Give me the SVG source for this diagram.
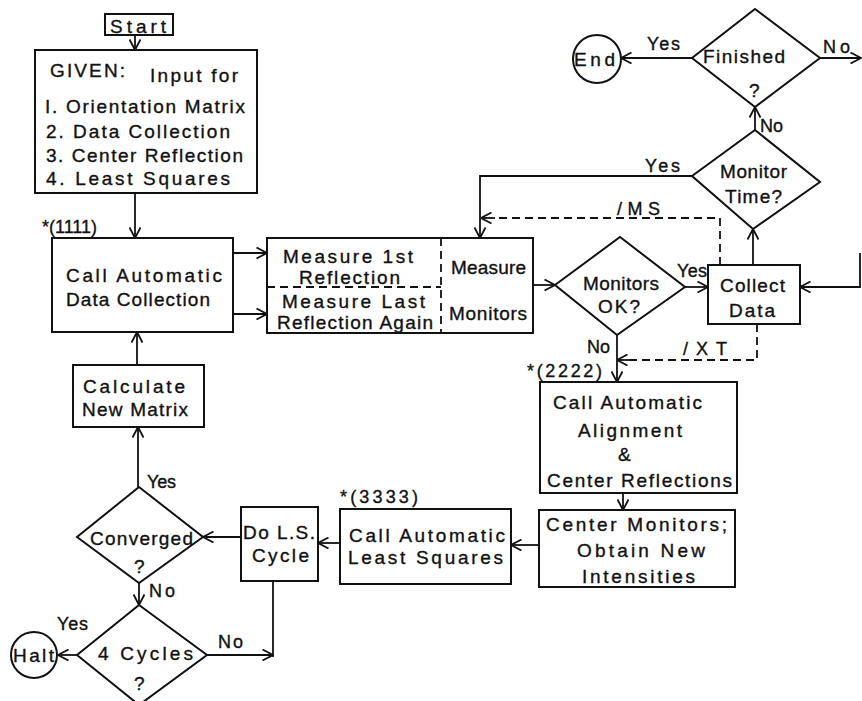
<svg xmlns="http://www.w3.org/2000/svg" width="862" height="701" viewBox="0 0 862 701">
<style>
.b{fill:#fff;stroke:#111;stroke-width:2}
.c{fill:none;stroke:#111;stroke-width:1.8}
.d{fill:none;stroke:#111;stroke-width:1.8;stroke-dasharray:8 5}
.a{marker-end:url(#ah)}
text{font-family:"Liberation Sans",Arial,sans-serif;font-size:19px;fill:#111;stroke:#111;stroke-width:0.35}
.s{font-size:18px}
</style>
<defs>
<marker id="ah" viewBox="0 0 12 12" refX="11.5" refY="6" markerWidth="12" markerHeight="12" markerUnits="userSpaceOnUse" orient="auto">
<path d="M1,0.5 L11.5,6 L1,11.5" fill="none" stroke="#111" stroke-width="1.8"/>
</marker>
</defs>
<rect width="862" height="701" fill="#fff"/>

<g id="connectors">
<path class="c a" d="M135,35 V50"/>
<path class="c a" d="M135,193 V238"/>
<path class="d" d="M136,238 V253 H233"/>
<path class="c a" d="M233,253 H267"/>
<path class="d" d="M137,332 V314 H233"/>
<path class="c a" d="M233,314 H267"/>
<path class="c a" d="M137,365 V332"/>
<path class="c a" d="M138,487 V427"/>
<path class="c a" d="M139,583 V605"/>
<path class="c a" d="M77,655 H58"/>
<path class="c a" d="M207,655 H273"/>
<path class="c" d="M273,581 V657"/>
<path class="c a" d="M241,537 H203"/>
<path class="c a" d="M340,543 H318"/>
<path class="c a" d="M539,545 H511"/>
<path class="c a" d="M623,493 V510"/>
<path class="c a" d="M617,335 V382"/>
<path class="d" d="M757,324 V360 H630"/>
<path class="c a" d="M630,360 H617"/>
<path class="c a" d="M533,285 H555"/>
<path class="c a" d="M685,287 H708"/>
<path class="c a" d="M753,265 V229"/>
<path class="c a" d="M692,176 H480 V238"/>
<path class="d" d="M720,265 V218 H495"/>
<path class="c a" d="M495,218 H481"/>
<path class="c a" d="M755,130 V107"/>
<path class="c a" d="M692,58 H621"/>
<path class="c a" d="M820,58 H861"/>
<path class="c a" d="M860,253 V287 H800"/>
</g>

<g id="start">
<rect class="b" x="105" y="14" width="68" height="21"/>
<text x="110" y="33" textLength="56" lengthAdjust="spacing">Start</text>
</g>

<g id="given">
<rect class="b" x="35" y="50" width="222" height="143"/>
<text x="50" y="77" textLength="75" lengthAdjust="spacing">GIVEN:</text>
<text x="150" y="82" textLength="88" lengthAdjust="spacing">Input for</text>
<text x="45" y="113" textLength="200" lengthAdjust="spacing">I. Orientation Matrix</text>
<text x="46" y="138" textLength="184" lengthAdjust="spacing">2. Data Collection</text>
<text x="46" y="162" textLength="197" lengthAdjust="spacing">3. Center Reflection</text>
<text x="46" y="185" textLength="184" lengthAdjust="spacing">4. Least Squares</text>
</g>

<g id="call-data-collection">
<rect class="b" x="52" y="238" width="181" height="94"/>
<text class="s" x="42" y="233" textLength="55" lengthAdjust="spacing">*(1111)</text>
<text x="66" y="282" textLength="156" lengthAdjust="spacing">Call Automatic</text>
<text x="66" y="306" textLength="144" lengthAdjust="spacing">Data Collection</text>
</g>

<g id="calc-matrix">
<rect class="b" x="73" y="365" width="131" height="62"/>
<text x="83" y="393" textLength="102" lengthAdjust="spacing">Calculate</text>
<text x="82" y="416" textLength="106" lengthAdjust="spacing">New Matrix</text>
</g>

<g id="measure">
<rect class="b" x="267" y="238" width="266" height="95"/>
<path class="d" d="M441,238 V333 M267,287 H441"/>
<text x="283" y="263" textLength="130" lengthAdjust="spacing">Measure 1st</text>
<text x="299" y="284" textLength="101" lengthAdjust="spacing">Reflection</text>
<text x="282" y="308" textLength="143" lengthAdjust="spacing">Measure Last</text>
<text x="277" y="329" textLength="156" lengthAdjust="spacing">Reflection Again</text>
<text x="451" y="274" textLength="75" lengthAdjust="spacing">Measure</text>
<text x="449" y="320" textLength="78" lengthAdjust="spacing">Monitors</text>
</g>

<g id="monitors-ok">
<path class="b" d="M620,237 L685,287 L617,335 L555,285 Z"/>
<text x="583" y="290" textLength="76" lengthAdjust="spacing">Monitors</text>
<text x="598" y="313" textLength="42" lengthAdjust="spacing">OK?</text>
<text class="s" x="677" y="277" textLength="30" lengthAdjust="spacing">Yes</text>
<text class="s" x="587" y="353" textLength="23" lengthAdjust="spacing">No</text>
<text class="s" x="683" y="355" textLength="44" lengthAdjust="spacing">/XT</text>
</g>

<g id="collect-data">
<rect class="b" x="708" y="265" width="92" height="59"/>
<text x="720" y="292" textLength="65" lengthAdjust="spacing">Collect</text>
<text x="729" y="317" textLength="46" lengthAdjust="spacing">Data</text>
<text class="s" x="617" y="215" textLength="43" lengthAdjust="spacing">/MS</text>
</g>

<g id="monitor-time">
<path class="b" d="M755,130 L820,182 L753,229 L692,176 Z"/>
<text x="720" y="178" textLength="67" lengthAdjust="spacing">Monitor</text>
<text x="725" y="203" textLength="57" lengthAdjust="spacing">Time?</text>
<text class="s" x="645" y="172" textLength="35" lengthAdjust="spacing">Yes</text>
<text class="s" x="760" y="132" textLength="23" lengthAdjust="spacing">No</text>
</g>

<g id="finished">
<path class="b" d="M755,9 L820,58 L755,107 L692,58 Z"/>
<text x="703" y="63" textLength="82" lengthAdjust="spacing">Finished</text>
<text x="749" y="97">?</text>
<text class="s" x="647" y="50" textLength="33" lengthAdjust="spacing">Yes</text>
<text class="s" x="823" y="53" textLength="27" lengthAdjust="spacing">No</text>
</g>

<g id="end">
<circle class="b" cx="597" cy="59" r="24"/>
<text x="574" y="66" textLength="41" lengthAdjust="spacing">End</text>
</g>

<g id="alignment">
<rect class="b" x="540" y="382" width="197" height="111"/>
<text class="s" x="527" y="377" textLength="75" lengthAdjust="spacing">*(2222)</text>
<text x="553" y="409" textLength="149" lengthAdjust="spacing">Call Automatic</text>
<text x="578" y="437" textLength="104" lengthAdjust="spacing">Alignment</text>
<text x="618" y="461">&amp;</text>
<text x="547" y="487" textLength="185" lengthAdjust="spacing">Center Reflections</text>
</g>

<g id="center-monitors">
<rect class="b" x="539" y="510" width="196" height="77"/>
<text x="546" y="531" textLength="181" lengthAdjust="spacing">Center Monitors;</text>
<text x="577" y="557" textLength="128" lengthAdjust="spacing">Obtain New</text>
<text x="582" y="583" textLength="113" lengthAdjust="spacing">Intensities</text>
</g>

<g id="least-squares">
<rect class="b" x="340" y="509" width="171" height="75"/>
<text class="s" x="340" y="503" textLength="78" lengthAdjust="spacing">*(3333)</text>
<text x="349" y="542" textLength="156" lengthAdjust="spacing">Call Automatic</text>
<text x="348" y="564" textLength="155" lengthAdjust="spacing">Least Squares</text>
</g>

<g id="do-ls">
<rect class="b" x="241" y="507" width="77" height="74"/>
<text x="243" y="539" textLength="72" lengthAdjust="spacing">Do L.S.</text>
<text x="252" y="562" textLength="57" lengthAdjust="spacing">Cycle</text>
</g>

<g id="converged">
<path class="b" d="M139,487 L203,537 L139,583 L77,537 Z"/>
<text x="90" y="545" textLength="103" lengthAdjust="spacing">Converged</text>
<text x="134" y="573">?</text>
<text class="s" x="147" y="488" textLength="29" lengthAdjust="spacing">Yes</text>
<text class="s" x="149" y="597" textLength="26" lengthAdjust="spacing">No</text>
</g>

<g id="four-cycles">
<path class="b" d="M139,605 L207,655 L139,705 L77,655 Z"/>
<text x="98" y="660" textLength="95" lengthAdjust="spacing">4 Cycles</text>
<text x="134" y="690">?</text>
<text class="s" x="57" y="630" textLength="31" lengthAdjust="spacing">Yes</text>
<text class="s" x="218" y="648" textLength="25" lengthAdjust="spacing">No</text>
</g>

<g id="halt">
<circle class="b" cx="34" cy="655" r="23"/>
<text x="13" y="662" textLength="41" lengthAdjust="spacing">Halt</text>
</g>
</svg>
